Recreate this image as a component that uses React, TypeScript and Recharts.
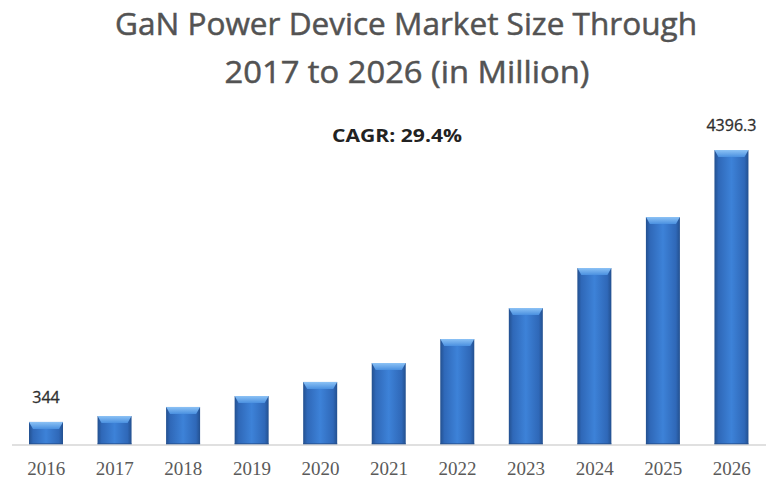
import React from 'react';
import { BarChart, Bar, XAxis, YAxis, LabelList } from 'recharts';

const years = ['2016', '2017', '2018', '2019', '2020', '2021', '2022', '2023', '2024', '2025', '2026'];
const marketSize = [344, 432, 567, 730, 940, 1222, 1580, 2042, 2638, 3398, 4396.3];
const titleLines = ['GaN Power Device Market Size Through', '2017 to 2026 (in Million)'];
const cagrText = 'CAGR: 29.4%';

const data = years.map((year, i) => ({ year, value: marketSize[i] }));

// bevelled blue column like the office-style original
const GlossyBar = (props: any) => {
  const { x, y, width, height } = props;
  if (!height || height <= 0) return null;
  const cap = Math.min(7, height / 3);
  return (
    <g>
      <rect x={x} y={y} width={width} height={height} fill="url(#barBody)" />
      <path
        d={`M${x},${y} L${x + width},${y} L${x + width - 4},${y + cap} L${x + 4},${y + cap} Z`}
        fill="url(#barCap)"
      />
      <rect x={x} y={y + height - 2} width={width} height={2} fill="#244f8c" opacity={0.6} />
    </g>
  );
};

const YearTick = (props: any) => {
  const { x, y, payload } = props;
  return (
    <text
      x={x}
      y={y + 22}
      textAnchor="middle"
      fill="#5a5a5a"
      fontSize={19}
      fontFamily="'Liberation Serif', serif"
    >
      {payload.value}
    </text>
  );
};

const EndLabel = (props: any) => {
  const { x, y, width, value, index } = props;
  if (index !== 0 && index !== marketSize.length - 1) return null;
  return (
    <text
      x={x + width / 2}
      y={y - 19}
      textAnchor="middle"
      fill="#2e2e2e"
      fontSize={16}
      fontFamily="'Open Sans', sans-serif"
      stroke="#2e2e2e"
      strokeWidth={0.3}
    >
      {value}
    </text>
  );
};

export default function App() {
  return (
    <div style={{ position: 'absolute', left: 0, top: 0, width: 766, height: 486, background: '#fff' }}>
      <BarChart
        width={766}
        height={486}
        data={data}
        margin={{ top: 123, right: 0, left: 12, bottom: 11 }}
      >
        <defs>
          <linearGradient id="barBody" x1="0" y1="0" x2="1" y2="0">
            <stop offset="0%" stopColor="#23508f" />
            <stop offset="12%" stopColor="#2f68b8" />
            <stop offset="50%" stopColor="#3d82d8" />
            <stop offset="88%" stopColor="#2f68b8" />
            <stop offset="100%" stopColor="#23508f" />
          </linearGradient>
          <linearGradient id="barCap" x1="0" y1="0" x2="0" y2="1">
            <stop offset="0%" stopColor="#8cc2f5" />
            <stop offset="100%" stopColor="#4a90e0" />
          </linearGradient>
        </defs>
        <XAxis
          dataKey="year"
          axisLine={{ stroke: '#d6d6d6', strokeWidth: 1.5 }}
          tickLine={false}
          interval={0}
          tick={<YearTick />}
        />
        <YAxis hide domain={[0, 4800]} />
        <Bar dataKey="value" barSize={34} shape={<GlossyBar />} isAnimationActive={false}>
          <LabelList dataKey="value" content={<EndLabel />} />
        </Bar>
      </BarChart>
      <svg
        width={766}
        height={486}
        style={{ position: 'absolute', left: 0, top: 0, pointerEvents: 'none' }}
      >
        <text
          x={406}
          y={35}
          textAnchor="middle"
          fill="#535353"
          stroke="#535353"
          strokeWidth={0.5}
          fontSize={31}
          fontFamily="'Open Sans', sans-serif"
          textLength={582}
          lengthAdjust="spacingAndGlyphs"
        >
          {titleLines[0]}
        </text>
        <text
          x={407}
          y={83}
          textAnchor="middle"
          fill="#535353"
          stroke="#535353"
          strokeWidth={0.5}
          fontSize={31}
          fontFamily="'Open Sans', sans-serif"
          textLength={365}
          lengthAdjust="spacingAndGlyphs"
        >
          {titleLines[1]}
        </text>
        <text
          x={397}
          y={142}
          textAnchor="middle"
          fill="#222"
          fontSize={18}
          fontWeight="bold"
          fontFamily="'Open Sans', sans-serif"
          textLength={130}
          lengthAdjust="spacingAndGlyphs"
        >
          {cagrText}
        </text>
      </svg>
    </div>
  );
}
